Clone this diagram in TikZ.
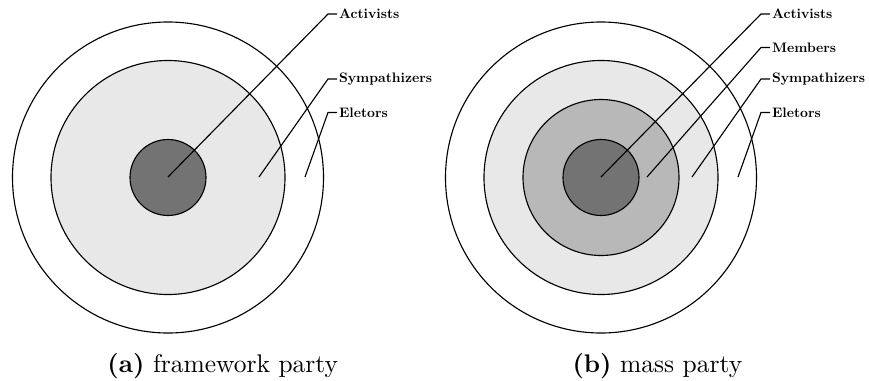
\documentclass[tikz,border=0pt]{standalone}
\usepackage{graphicx}
\newcommand{\lbltext}[1]{\scalebox{0.55}{\fontsize{10}{12}\selectfont\bfseries #1}}
\begin{document}
\begin{tikzpicture}[x=0.4pt,y=-0.4pt,
  ring/.style={circle,draw=black,line width=0.45pt,inner sep=0pt,minimum size=#1*0.8pt},
  lab/.style={anchor=west,inner sep=0.6pt},
  leader/.style={line width=0.45pt},
  captext/.style={anchor=base west,inner sep=0pt,font=\fontsize{10.2}{12}\selectfont}]
\useasboundingbox (0,0) rectangle (869,381);
% ---------- (a) framework party ----------
\node[ring=155.5,fill=white] (a3) at (168,177.5) {};
\node[ring=117,fill=black!9] (a2) at (168,177.5) {};
\node[ring=38,fill=black!55] (a1) at (168,177.5) {};
\coordinate (a1s) at (168,177);
\coordinate (a2s) at (259,177);
\coordinate (a3s) at (305,177);
\coordinate (a1e) at (328,14);
\coordinate (a2e) at (328,79);
\coordinate (a3e) at (328,112.5);
\node[lab] (aact) at (337,14) {\lbltext{Activists}};
\node[lab] (asym) at (337,79) {\lbltext{Sympathizers}};
\node[lab] (aele) at (337,112.5) {\lbltext{Eletors}};
\draw[leader] (a1s) -- (a1e) -- (aact.west);
\draw[leader] (a2s) -- (a2e) -- (asym.west);
\draw[leader] (a3s) -- (a3e) -- (aele.west);
\node[captext] (capa) at (107,372) {\textbf{(a)} framework party};
% ---------- (b) mass party ----------
\node[ring=155.5,fill=white] (b4) at (601,177.5) {};
\node[ring=117,fill=black!9] (b3) at (601,177.5) {};
\node[ring=78,fill=black!28] (b2) at (601,177.5) {};
\node[ring=38,fill=black!55] (b1) at (601,177.5) {};
\coordinate (b1s) at (601,177);
\coordinate (b2s) at (647,177);
\coordinate (b3s) at (692,177);
\coordinate (b4s) at (738,177);
\coordinate (b1e) at (761,14);
\coordinate (b2e) at (761,47.5);
\coordinate (b3e) at (761,79);
\coordinate (b4e) at (761,112.5);
\node[lab] (bact) at (770,14) {\lbltext{Activists}};
\node[lab] (bmem) at (770,47.5) {\lbltext{Members}};
\node[lab] (bsym) at (770,79) {\lbltext{Sympathizers}};
\node[lab] (bele) at (770,112.5) {\lbltext{Eletors}};
\draw[leader] (b1s) -- (b1e) -- (bact.west);
\draw[leader] (b2s) -- (b2e) -- (bmem.west);
\draw[leader] (b3s) -- (b3e) -- (bsym.west);
\draw[leader] (b4s) -- (b4e) -- (bele.west);
\node[captext] (capb) at (572,372) {\textbf{(b)} mass party};
\end{tikzpicture}
\end{document}
